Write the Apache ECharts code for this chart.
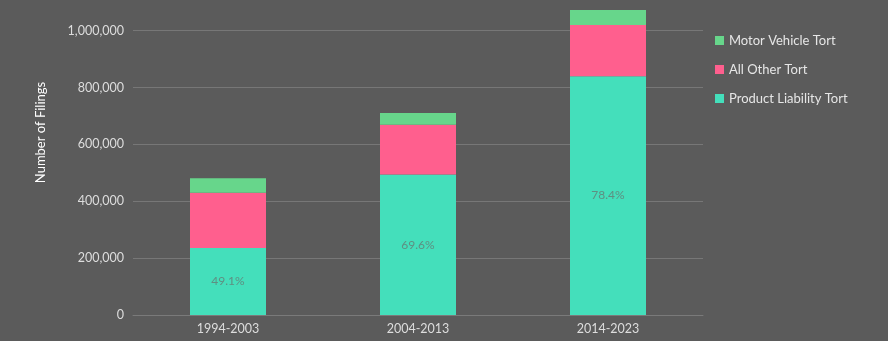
<!DOCTYPE html>
<html><head><meta charset="utf-8">
<script src="https://cdn.jsdelivr.net/npm/echarts@6/dist/echarts.min.js"></script>
<style>html,body{margin:0;padding:0;background:#5b5b5b;}#c{width:888px;height:341px;}</style>
</head><body><div id="c"></div>
<script>
const categories = ['1994-2003', '2004-2013', '2014-2023'];
const productLiability = [236000, 494000, 840000];
const allOther = [194000, 175000, 180000];
const motorVehicle = [51000, 42000, 53000];
const productShareLabels = ['49.1%', '69.6%', '78.4%'];
const yTicks = [0, 200000, 400000, 600000, 800000, 1000000];

const font = 'Lato';
const chart = echarts.init(document.getElementById('c'));
chart.setOption({
  backgroundColor: '#5b5b5b',
  animation: false,
  textStyle: { fontFamily: font },
  grid: { left: 133, right: 185, top: 8, bottom: 26 },
  legend: {
    orient: 'vertical', left: 710, top: 29, itemGap: 16,
    itemWidth: 9, itemHeight: 9, icon: 'rect',
    data: ['Motor Vehicle Tort', 'All Other Tort', 'Product Liability Tort'],
    textStyle: { color: '#e6e6e6', fontSize: 13, fontFamily: font }
  },
  xAxis: {
    type: 'category', data: categories,
    axisLine: { show: true, lineStyle: { color: '#7a7a7a' } },
    axisTick: { show: false },
    axisLabel: { color: '#dddddd', fontSize: 12.5, margin: 7, fontFamily: font }
  },
  yAxis: {
    type: 'value', min: 0, max: 1080000, interval: 200000,
    name: 'Number of Filings', nameLocation: 'middle', nameGap: 86, nameRotate: 90,
    nameTextStyle: { color: '#ffffff', fontSize: 13, fontFamily: font, padding: [0, 0, 0, 58] },
    axisLine: { show: false }, axisTick: { show: false },
    splitLine: { showMaxLine: false, lineStyle: { color: '#777777' } },
    axisLabel: { color: '#dddddd', fontSize: 12.5, margin: 9, fontFamily: font, showMaxLabel: false,
      formatter: v => yTicks.includes(v) ? v.toLocaleString('en-US') : '' }
  },
  series: [
    { name: 'Product Liability Tort', type: 'bar', stack: 't', data: productLiability,
      barWidth: '40%', itemStyle: { color: '#44dfbb' },
      label: { show: true, position: 'inside', color: '#5f8f82', fontSize: 12, fontFamily: font,
        formatter: p => productShareLabels[p.dataIndex] } },
    { name: 'All Other Tort', type: 'bar', stack: 't', data: allOther, itemStyle: { color: '#ff5f8e' } },
    { name: 'Motor Vehicle Tort', type: 'bar', stack: 't', data: motorVehicle, itemStyle: { color: '#67d68b' } }
  ]
});
</script></body></html>
